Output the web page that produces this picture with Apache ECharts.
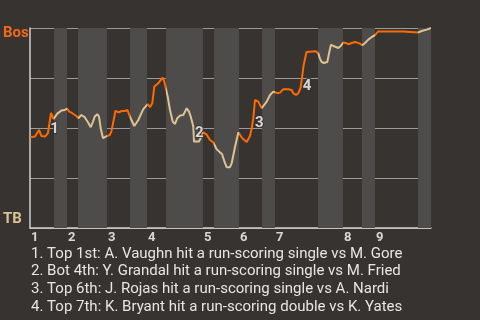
<!DOCTYPE html>
<html>
<head>
<meta charset="utf-8">
<script src="https://cdn.jsdelivr.net/npm/echarts@6/dist/echarts.min.js"></script>
<style>
html,body{margin:0;padding:0;background:#363330;}
#c{width:480px;height:320px;}
</style>
</head>
<body>
<div id="c"></div>
<script>
// Game progress (0-100) and Bos win probability (%)
const progress = [0,1.25,2.24,2.87,3.74,4.49,5.24,5.86,6.81,7.81,8.65,9.23,9.80,10.55,11.55,12.10,12.79,13.64,14.46,15.14,15.71,16.14,16.78,17.21,17.63,18.20,18.88,19.28,19.88,20.28,21.12,21.27,22.12,22.94,23.69,24.31,24.94,26.01,27.01,28.25,29.35,29.92,30.50,31.00,32.00,33.09,33.49,34.34,34.91,35.59,36.16,36.73,37.41,38.23,39.08,39.65,40.08,40.72,40.90,41.32,42.14,43.19,44.01,44.89,45.71,46.51,47.38,47.88,48.63,49.05,49.88,50.30,51.12,51.95,52.94,54.04,54.86,55.29,55.69,56.11,56.53,56.93,57.78,58.18,59.03,59.85,60.67,61.10,61.77,62.34,63.17,64.41,65.26,65.66,66.33,66.91,67.46,67.83,68.20,68.58,68.95,69.33,71.32,71.90,72.32,72.74,73.32,74.14,74.64,75.06,75.64,76.31,76.88,77.48,78.13,78.73,79.38,80.22,81.05,81.62,82.29,82.87,83.54,84.36,85.21,86.03,86.86,93.02,93.27,96.83,97.68,98.93,100];
const winProb = [45.4,45.7,49,46,45.7,47.5,57.5,54.5,57.2,58.7,59,59.7,58.2,57.4,56,54.9,56.5,55.4,52.9,50.4,53.2,55.7,56.9,55.7,49.9,44.9,45.7,46.2,46.5,48.2,56.5,58.5,57.9,58.5,58.5,59,55.5,51,54,59.4,61.9,60.4,62.4,70.7,72.4,75.2,73.2,65.7,59,53.2,52,54.9,56.2,56.5,59.9,58.2,55.7,50.7,43.2,42.7,43.2,47.8,46.8,44,42.8,39.5,37.8,37,32.4,30.4,30.4,32.4,40.5,47.8,44.9,43,46,49.9,54.9,64,64.4,63.2,59.9,60.7,63.2,66.5,68.2,69,67.4,67.7,69.4,69.4,69,67.4,66.5,67.4,70,75,81,84.5,88,88.8,88.4,87.2,84.7,83,82.5,83,88,91.7,91,90.5,90,91,92.7,92.5,91.9,92.5,93,92.7,92.2,91.4,92.5,94.2,95.5,96.4,98.3,98.3,97.8,97.8,98.5,99.2,100];
// Half-inning boundaries (top 1st, bot 1st, top 2nd, ...)
const halfStarts = [0,5.99,9.23,11.97,19.20,24.94,29.18,33.92,43.14,45.89,52.12,57.86,61.10,71.82,78.05,82.79,86.03,96.76,100];
const inningLabels = ['1','2','3','4','5','6','7','8','9'];
// Key events: label position [progress, prob]
const eventLabels = ['1','2','3','4'];
const eventX = [6.11,42.22,57.18,69.08];
const eventY = [49.6,47.3,52.6,71];
const notes = [
  '1. Top 1st: A. Vaughn hit a run-scoring single vs M. Gore',
  '2. Bot 4th: Y. Grandal hit a run-scoring single vs M. Fried',
  '3. Top 6th: J. Rojas hit a run-scoring single vs A. Nardi',
  '4. Top 7th: K. Bryant hit a run-scoring double vs K. Yates'
];

const BOS = '#ff6a00';
const TB = '#dcc391';
const BG = '#363330';
const BAND = '#4e4c4a';

const lineData = progress.map((x, i) => [x, winProb[i]]);
const pieces = [];
for (let i = 0; i < halfStarts.length - 1; i++) {
  const p = { gte: halfStarts[i], color: i % 2 === 0 ? BOS : TB };
  if (i < halfStarts.length - 2) p.lt = halfStarts[i + 1]; else p.lte = halfStarts[i + 1];
  pieces.push(p);
}
const bands = [];
for (let i = 1; i < halfStarts.length - 1; i += 2) {
  bands.push([{ xAxis: halfStarts[i] }, { xAxis: halfStarts[i + 1] }]);
}
const inningStarts = halfStarts.filter((v, i) => i % 2 === 0 && i < halfStarts.length - 1);

const chart = echarts.init(document.getElementById('c'), null, { renderer: 'canvas' });
chart.setOption({
  backgroundColor: BG,
  animation: false,
  grid: { left: 30, right: 49, top: 28, bottom: 92, containLabel: false },
  xAxis: {
    type: 'value', min: 0, max: 100,
    axisLine: { show: true, onZero: false, lineStyle: { color: '#d0d0d0', width: 1.5 } },
    axisTick: { show: false },
    splitLine: { show: false },
    axisLabel: { show: false }
  },
  yAxis: {
    type: 'value', min: 0, max: 100, interval: 25,
    axisLine: { show: true, lineStyle: { color: '#d0d0d0', width: 1.5 } },
    axisTick: { show: false },
    axisLabel: { show: false },
    splitLine: { show: true, lineStyle: { color: '#9a9a9a', width: 1 } }
  },
  visualMap: { show: false, type: 'piecewise', dimension: 0, seriesIndex: 0, pieces: pieces },
  series: [
    {
      type: 'line', data: lineData, showSymbol: false, symbol: 'none',
      lineStyle: { width: 2 }, z: 3
    },
    {
      type: 'line', data: [], z: 1,
      markArea: { silent: true, itemStyle: { color: BAND }, data: bands }
    },
    {
      type: 'scatter', z: 5, symbolSize: 1, itemStyle: { color: 'rgba(0,0,0,0)' },
      data: eventX.map((x, i) => ({ value: [x, eventY[i]], name: eventLabels[i] })),
      label: {
        show: true, position: 'inside', formatter: p => p.name,
        color: '#ffffff', fontWeight: 'bold', fontSize: 15, fontFamily: 'Roboto',
        textBorderColor: '#363330', textBorderWidth: 2
      }
    },
    {
      type: 'scatter', z: 5, symbolSize: 1, clip: false, itemStyle: { color: 'rgba(0,0,0,0)' },
      data: inningStarts.map((x, i) => ({ value: [x, 0], name: inningLabels[i] })),
      label: {
        show: true, position: 'bottom', distance: 3, align: 'left', offset: [1, 0],
        formatter: p => p.name,
        color: '#ffffff', fontWeight: 'bold', fontSize: 13, fontFamily: 'Roboto'
      }
    }
  ],
  graphic: [
    { type: 'text', left: 3, top: 26, style: { text: 'Bos', fill: '#f2691a', font: 'bold 15px Roboto' } },
    { type: 'text', left: 3, top: 212, style: { text: 'TB', fill: TB, font: 'bold 15px Roboto' } },
    { type: 'text', left: 31, top: 245, style: { text: notes.join('\n'), fill: '#e6e6e6', font: '15px Roboto', lineHeight: 17.8 } }
  ]
});
</script>
</body>
</html>
